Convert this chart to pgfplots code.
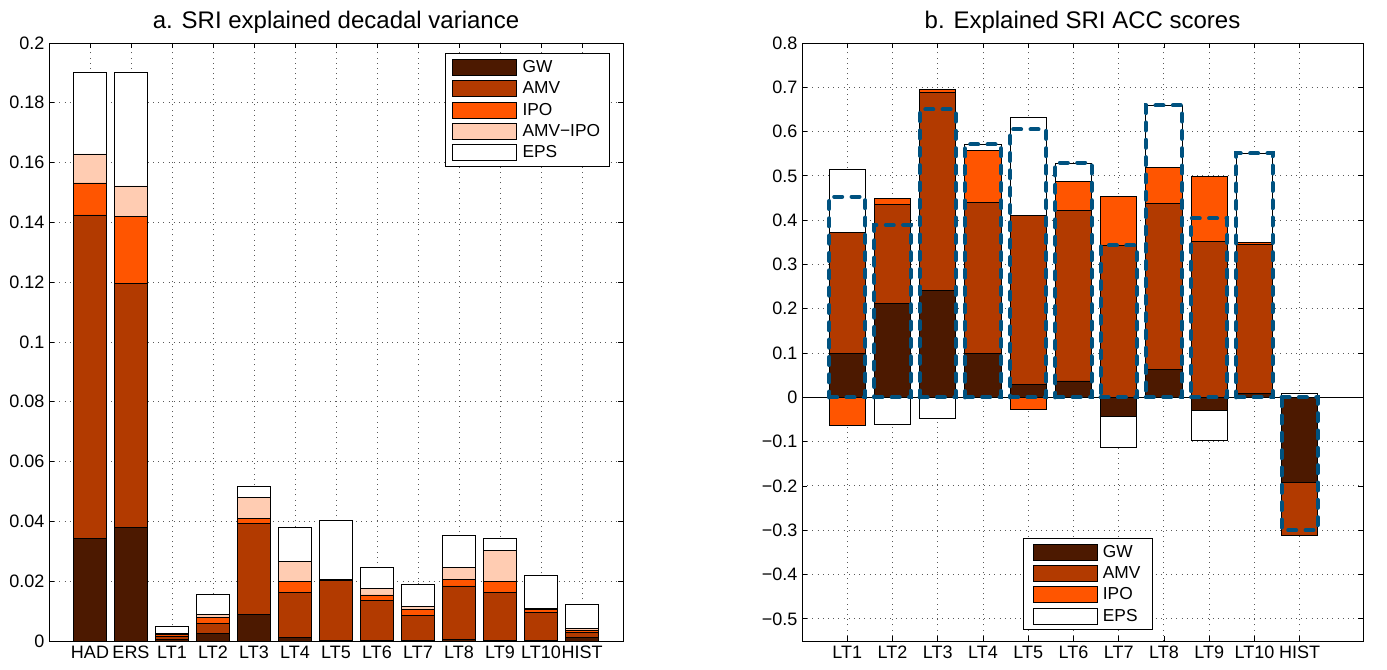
\documentclass[border=0pt]{standalone}
\usepackage{fontspec}
\setmainfont{Liberation Sans}
\usepackage{pgfplots}
\pgfplotsset{compat=1.18}
\definecolor{gwc}{RGB}{76,25,0}
\definecolor{amvc}{RGB}{178,58,0}
\definecolor{ipoc}{RGB}{255,85,0}
\definecolor{aic}{RGB}{255,204,178}
\definecolor{dashc}{RGB}{0,82,128}
\pgfplotsset{
  mystyle/.style={
    scale only axis,
    tick align=inside,
    major tick length=4pt,
    grid=major,
    grid style={black!65, line width=0.7pt, dash pattern=on 0.7pt off 3.2pt},
    tick label style={font=\fontsize{13.5}{16}\selectfont},
    title style={font=\fontsize{18}{21}\selectfont, at={(0.5,1)}, anchor=base, yshift=5pt},
    axis line style={black, line width=0.7pt},
    every tick/.style={black, line width=0.6pt},
    legend cell align=left,
  },
  mybar/.style={ybar, bar width=0.8, bar shift=0pt, draw=black, line width=0.6pt, forget plot},
}
\begin{document}
\begin{tikzpicture}[x=1pt,y=1pt]
\useasboundingbox (0,0) rectangle (1040.25,502.5);
% ---------- left chart ----------
\begin{axis}[mystyle,
  at={(36.75pt,21.75pt)}, anchor=south west,
  width=430.5pt, height=448.5pt,
  xmin=0, xmax=14, ymin=0, ymax=0.2,
  xtick={1,...,13},
  xticklabels={HAD,ERS,LT1,LT2,LT3,LT4,LT5,LT6,LT7,LT8,LT9,LT10,HIST},
  ytick={0,0.02,...,0.2},
  yticklabels={0,0.02,0.04,0.06,0.08,0.1,0.12,0.14,0.16,0.18,0.2},
  title={a. SRI explained decadal variance},
  legend style={at={(0.977,0.983)}, anchor=north east, draw=black, line width=0.6pt,
    font=\fontsize{13}{15}\selectfont, inner xsep=5pt, inner ysep=3pt, row sep=1.5pt,
    /tikz/every odd column/.append style={column sep=2pt}},
]
\addplot[mybar, fill=white] coordinates {(1,.1902)(2,.1902)(3,.0050)(4,.0155)(5,.0518)(6,.0380)(7,.0404)(8,.0245)(9,.0188)(10,.0354)(11,.0342)(12,.0221)(13,.0124)};
\addplot[mybar, fill=aic] coordinates {(1,.1629)(2,.1522)(3,.0024)(4,.0088)(5,.0479)(6,.0265)(7,.0206)(8,.0176)(9,.0115)(10,.0245)(11,.0303)(12,.0109)(13,.0042)};
\addplot[mybar, fill=ipoc] coordinates {(1,.1532)(2,.1420)(3,.0021)(4,.0078)(5,.0410)(6,.0198)(7,.0205)(8,.0154)(9,.0107)(10,.0205)(11,.0199)(12,.0105)(13,.0036)};
\addplot[mybar, fill=amvc] coordinates {(1,.1425)(2,.1195)(3,.0017)(4,.0058)(5,.0392)(6,.0161)(7,.0204)(8,.0137)(9,.0084)(10,.0184)(11,.0162)(12,.0096)(13,.0030)};
\addplot[mybar, fill=gwc] coordinates {(1,.0343)(2,.0379)(3,.0004)(4,.0024)(5,.0089)(6,.0012)(7,.0002)(8,.0003)(9,.0002)(10,.0004)(11,.0002)(12,.0002)(13,.0013)};
\addlegendimage{legend image code/.code={\draw[fill=gwc,draw=black,line width=0.6pt] (0pt,-6pt) rectangle (48pt,6pt);}}
\addlegendentry{GW}
\addlegendimage{legend image code/.code={\draw[fill=amvc,draw=black,line width=0.6pt] (0pt,-6pt) rectangle (48pt,6pt);}}
\addlegendentry{AMV}
\addlegendimage{legend image code/.code={\draw[fill=ipoc,draw=black,line width=0.6pt] (0pt,-6pt) rectangle (48pt,6pt);}}
\addlegendentry{IPO}
\addlegendimage{legend image code/.code={\draw[fill=aic,draw=black,line width=0.6pt] (0pt,-6pt) rectangle (48pt,6pt);}}
\addlegendentry{AMV−IPO}
\addlegendimage{legend image code/.code={\draw[fill=white,draw=black,line width=0.6pt] (0pt,-6pt) rectangle (48pt,6pt);}}
\addlegendentry{EPS}
\end{axis}
% ---------- right chart ----------
\begin{axis}[mystyle,
  at={(601.5pt,21.75pt)}, anchor=south west,
  width=420.75pt, height=448.5pt,
  xmin=0, xmax=12.4, ymin=-0.55, ymax=0.8,
  xtick={1,...,11},
  xticklabels={LT1,LT2,LT3,LT4,LT5,LT6,LT7,LT8,LT9,LT10,HIST},
  ytick={-0.5,-0.4,...,0.8},
  yticklabels={−0.5,−0.4,−0.3,−0.2,−0.1,0,0.1,0.2,0.3,0.4,0.5,0.6,0.7,0.8},
  title={b. Explained SRI ACC scores},
  legend style={at={(0.394,0.018)}, anchor=south west, draw=black, line width=0.6pt,
    font=\fontsize{13}{15}\selectfont, inner xsep=7pt, inner ysep=3pt, row sep=1.5pt,
    /tikz/every odd column/.append style={column sep=2pt}},
]
% positive parts (cumulative tops)
\addplot[mybar, fill=white] coordinates {(1,.515)(4,.572)(5,.632)(6,.529)(8,.659)(10,.551)(11,.010)};
\addplot[mybar, fill=ipoc] coordinates {(2,.449)(3,.695)(4,.558)(6,.487)(7,.453)(8,.520)(9,.499)(10,.349)};
\addplot[mybar, fill=amvc] coordinates {(1,.372)(2,.436)(3,.688)(4,.440)(5,.410)(6,.421)(7,.343)(8,.438)(9,.352)(10,.346)};
\addplot[mybar, fill=gwc] coordinates {(1,.100)(2,.213)(3,.241)(4,.100)(5,.030)(6,.037)(8,.062)(10,.008)};
% negative parts (cumulative bottoms)
\addplot[mybar, fill=white] coordinates {(2,-.062)(3,-.047)(7,-.113)(9,-.098)};
\addplot[mybar, fill=ipoc] coordinates {(1,-.064)(5,-.028)};
\addplot[mybar, fill=amvc] coordinates {(11,-.312)};
\addplot[mybar, fill=gwc] coordinates {(7,-.043)(9,-.030)(11,-.1925)};
% zero line
\addplot[black, line width=0.7pt, forget plot] coordinates {(0,0) (12.4,0)};
% explained (dashed)
\addplot[ybar, bar width=0.8, bar shift=0pt, fill=none, draw=dashc, line width=3pt, line cap=round,
  dash pattern=on 6pt off 7pt, forget plot]
  coordinates {(1,.453)(2,.389)(3,.650)(4,.571)(5,.605)(6,.530)(7,.343)(8,.659)(9,.404)(10,.551)(11,-.300)};
\addlegendimage{legend image code/.code={\draw[fill=gwc,draw=black,line width=0.6pt] (0pt,-6pt) rectangle (48pt,6pt);}}
\addlegendentry{GW}
\addlegendimage{legend image code/.code={\draw[fill=amvc,draw=black,line width=0.6pt] (0pt,-6pt) rectangle (48pt,6pt);}}
\addlegendentry{AMV}
\addlegendimage{legend image code/.code={\draw[fill=ipoc,draw=black,line width=0.6pt] (0pt,-6pt) rectangle (48pt,6pt);}}
\addlegendentry{IPO}
\addlegendimage{legend image code/.code={\draw[fill=white,draw=black,line width=0.6pt] (0pt,-6pt) rectangle (48pt,6pt);}}
\addlegendentry{EPS}
\end{axis}
\end{tikzpicture}
\end{document}
